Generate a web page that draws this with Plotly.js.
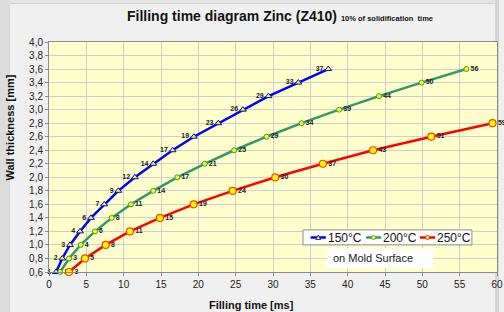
<!DOCTYPE html>
<html>
<head>
<meta charset="utf-8">
<script src="https://cdn.plot.ly/plotly-3.0.1.min.js"></script>
<style>
  html, body { margin:0; padding:0; width:504px; height:312px; overflow:hidden; background:#dcdcdc; }
  #bg { position:absolute; left:10px; top:0; width:485px; height:312px; background:#f0f0f0; }
  #topband { position:absolute; left:10px; top:0; width:485px; height:3px; background:#e4e4e4; border-bottom:1px solid #d2d2d2; }
  #rstrip { position:absolute; left:495px; top:0; width:4px; height:312px; background:#d6d6d6; }
  #rest { position:absolute; left:499px; top:0; width:5px; height:312px; background:#efefef; }
  #chart { position:absolute; left:0; top:0; width:504px; height:312px; }
</style>
</head>
<body>
<div id="bg"></div><div id="topband"></div><div id="rstrip"></div><div id="rest"></div>
<div id="chart"></div>
<script>
// Wall thickness [mm]
const thickness150 = [0.6,0.8,1.0,1.2,1.4,1.6,1.8,2.0,2.2,2.4,2.6,2.8,3.0,3.2,3.4,3.6];
const thickness200 = [0.6,0.8,1.0,1.2,1.4,1.6,1.8,2.0,2.2,2.4,2.6,2.8,3.0,3.2,3.4,3.6];
const thickness250 = [0.6,0.8,1.0,1.2,1.4,1.6,1.8,2.0,2.2,2.4,2.6,2.8];
// Filling time [ms]
const time150 = [0.94,1.78,2.81,4.15,5.62,7.40,9.28,11.5,13.96,16.55,19.4,22.67,25.97,29.4,33.4,37.4];
const time200 = [1.5,2.68,4.24,6.16,8.39,10.98,13.96,17.18,20.84,24.8,29.14,33.82,38.86,44.2,49.9,55.9];
const time250 = [2.68,4.82,7.59,10.84,14.86,19.37,24.59,30.3,36.68,43.4,51.2,59.4];
// data labels
const labels150 = ["1","2","3","4","6","7","9","12","14","17","19","23","26","29","33","37"];
const labels200 = ["2","3","4","6","8","11","14","17","21","25","29","34","39","44","50","56"];
const labels250 = ["3","5","8","11","15","19","24","30","37","43","51","59"];
const seriesNames = ["150°C","200°C","250°C"];
const xTicks = [0,5,10,15,20,25,30,35,40,45,50,55,60];

const FONT = "Arial, 'Liberation Sans', sans-serif";
const BLUE = "#0000ff", GREEN = "#339966", RED = "#ff0000", YEL = "#ffff00";
const lblFont = {family: FONT, size: 7, color: "#222222", weight: "bold"};

const traces = [
  {x: time150, y: thickness150, name: seriesNames[0], type: "scatter", mode: "lines+markers+text",
   text: labels150, textposition: "middle left", textfont: lblFont, cliponaxis: false,
   line: {color: BLUE, width: 2.5},
   marker: {symbol: "triangle-up", size: 6, color: YEL, line: {color: BLUE, width: 1}}},
  {x: time200, y: thickness200, name: seriesNames[1], type: "scatter", mode: "lines+markers+text",
   text: labels200, textposition: "middle right", textfont: lblFont, cliponaxis: false,
   line: {color: GREEN, width: 2.5},
   marker: {symbol: "circle", size: 5, color: YEL, line: {color: GREEN, width: 1}}},
  {x: time250, y: thickness250, name: seriesNames[2], type: "scatter", mode: "lines+markers+text",
   text: labels250, textposition: "middle right", textfont: lblFont, cliponaxis: false,
   line: {color: RED, width: 2.5},
   marker: {symbol: "circle", size: 7, color: YEL, line: {color: "#ff4000", width: 1.2}}}
];

// custom legend (paper coords)
const legY = 0.150;
const legItems = [
  {x0: 0.584, x1: 0.618, tx: 0.621, color: BLUE, name: seriesNames[0], tri: true},
  {x0: 0.708, x1: 0.741, tx: 0.743, color: GREEN, name: seriesNames[1], tri: false},
  {x0: 0.828, x1: 0.862, tx: 0.864, color: RED, name: seriesNames[2], tri: false}
];
const shapes = [
  {type: "rect", xref: "paper", yref: "paper", x0: 0.567, x1: 0.944, y0: 0.118, y1: 0.183,
   fillcolor: "#ffffff", line: {color: "#8c8c8c", width: 1}},
  {type: "rect", xref: "paper", yref: "paper", x0: 0.621, x1: 0.857, y0: 0.016, y1: 0.102,
   fillcolor: "#ffffff", line: {width: 0}}
];
const annotations = [];
legItems.forEach(it => {
  const cx = (it.x0 + it.x1) / 2;
  shapes.push({type: "line", xref: "paper", yref: "paper", x0: it.x0, x1: it.x1, y0: legY, y1: legY,
               line: {color: it.color, width: 2.5}});
  if (it.tri) {
    shapes.push({type: "path", xref: "paper", yref: "paper", xsizemode: "pixel", ysizemode: "pixel",
                 xanchor: cx, yanchor: legY, path: "M-2.5,-2 L2.5,-2 L0,2.5 Z",
                 fillcolor: YEL, line: {color: it.color, width: 0.8}});
  } else {
    shapes.push({type: "circle", xref: "paper", yref: "paper", xsizemode: "pixel", ysizemode: "pixel",
                 xanchor: cx, yanchor: legY, x0: -2, x1: 2, y0: -2, y1: 2,
                 fillcolor: YEL, line: {color: it.color, width: 0.8}});
  }
  annotations.push({xref: "paper", yref: "paper", x: it.tx, y: legY, xanchor: "left", yanchor: "middle",
                    text: it.name, showarrow: false, borderpad: 0,
                    font: {family: FONT, size: 12, color: "#111111"}});
});
annotations.push({xref: "paper", yref: "paper", x: 0.632, y: 0.059, xanchor: "left", yanchor: "middle",
                  text: "on Mold Surface", showarrow: false, borderpad: 0,
                  font: {family: FONT, size: 11, color: "#222222"}});
annotations.push({xref: "paper", yref: "paper", x: -0.086, y: 0.63, xanchor: "center", yanchor: "middle",
                  textangle: -90, text: "<b>Wall thickness [mm]</b>", showarrow: false,
                  font: {family: FONT, size: 11, color: "#111111"}});
annotations.push({xref: "paper", yref: "paper", x: 0.453, y: -0.142, xanchor: "center", yanchor: "middle",
                  text: "<b>Filling time [ms]</b>", showarrow: false,
                  font: {family: FONT, size: 11, color: "#111111"}});

const layout = {
  width: 504, height: 312,
  margin: {l: 49, r: 7, t: 42, b: 40},
  paper_bgcolor: "rgba(0,0,0,0)",
  plot_bgcolor: "#ffffcc",
  separators: ",.",
  showlegend: false,
  title: {
    text: "<b>Filling time diagram Zinc (Z410)</b> <span style='font-size:7.5px'><b>10% of solidification  time</b></span>",
    font: {family: FONT, size: 14, color: "#111111"},
    xref: "container", yref: "container", x: 0.252, xanchor: "left", y: 0.949, yanchor: "middle"
  },
  xaxis: {
    range: [0, 60], tickvals: xTicks, ticktext: xTicks.map(String),
    showgrid: true, gridcolor: "#cfcfcf", gridwidth: 1,
    showline: true, linecolor: "#8a8a8a", linewidth: 1, mirror: true,
    ticks: "outside", ticklen: 3, tickcolor: "#8a8a8a",
    tickfont: {family: FONT, size: 10, color: "#222222"},
    zeroline: false, fixedrange: true
  },
  yaxis: {
    range: [0.6, 4.0], dtick: 0.2, tick0: 0.6, tickformat: ".1f",
    showgrid: true, gridcolor: "#cfcfcf", gridwidth: 1,
    showline: true, linecolor: "#8a8a8a", linewidth: 1, mirror: true,
    ticks: "outside", ticklen: 3, tickcolor: "#8a8a8a",
    tickfont: {family: FONT, size: 10, color: "#222222"},
    zeroline: false, fixedrange: true
  },
  shapes: shapes,
  annotations: annotations
};

Plotly.newPlot("chart", traces, layout, {displayModeBar: false, staticPlot: true});
</script>
</body>
</html>
